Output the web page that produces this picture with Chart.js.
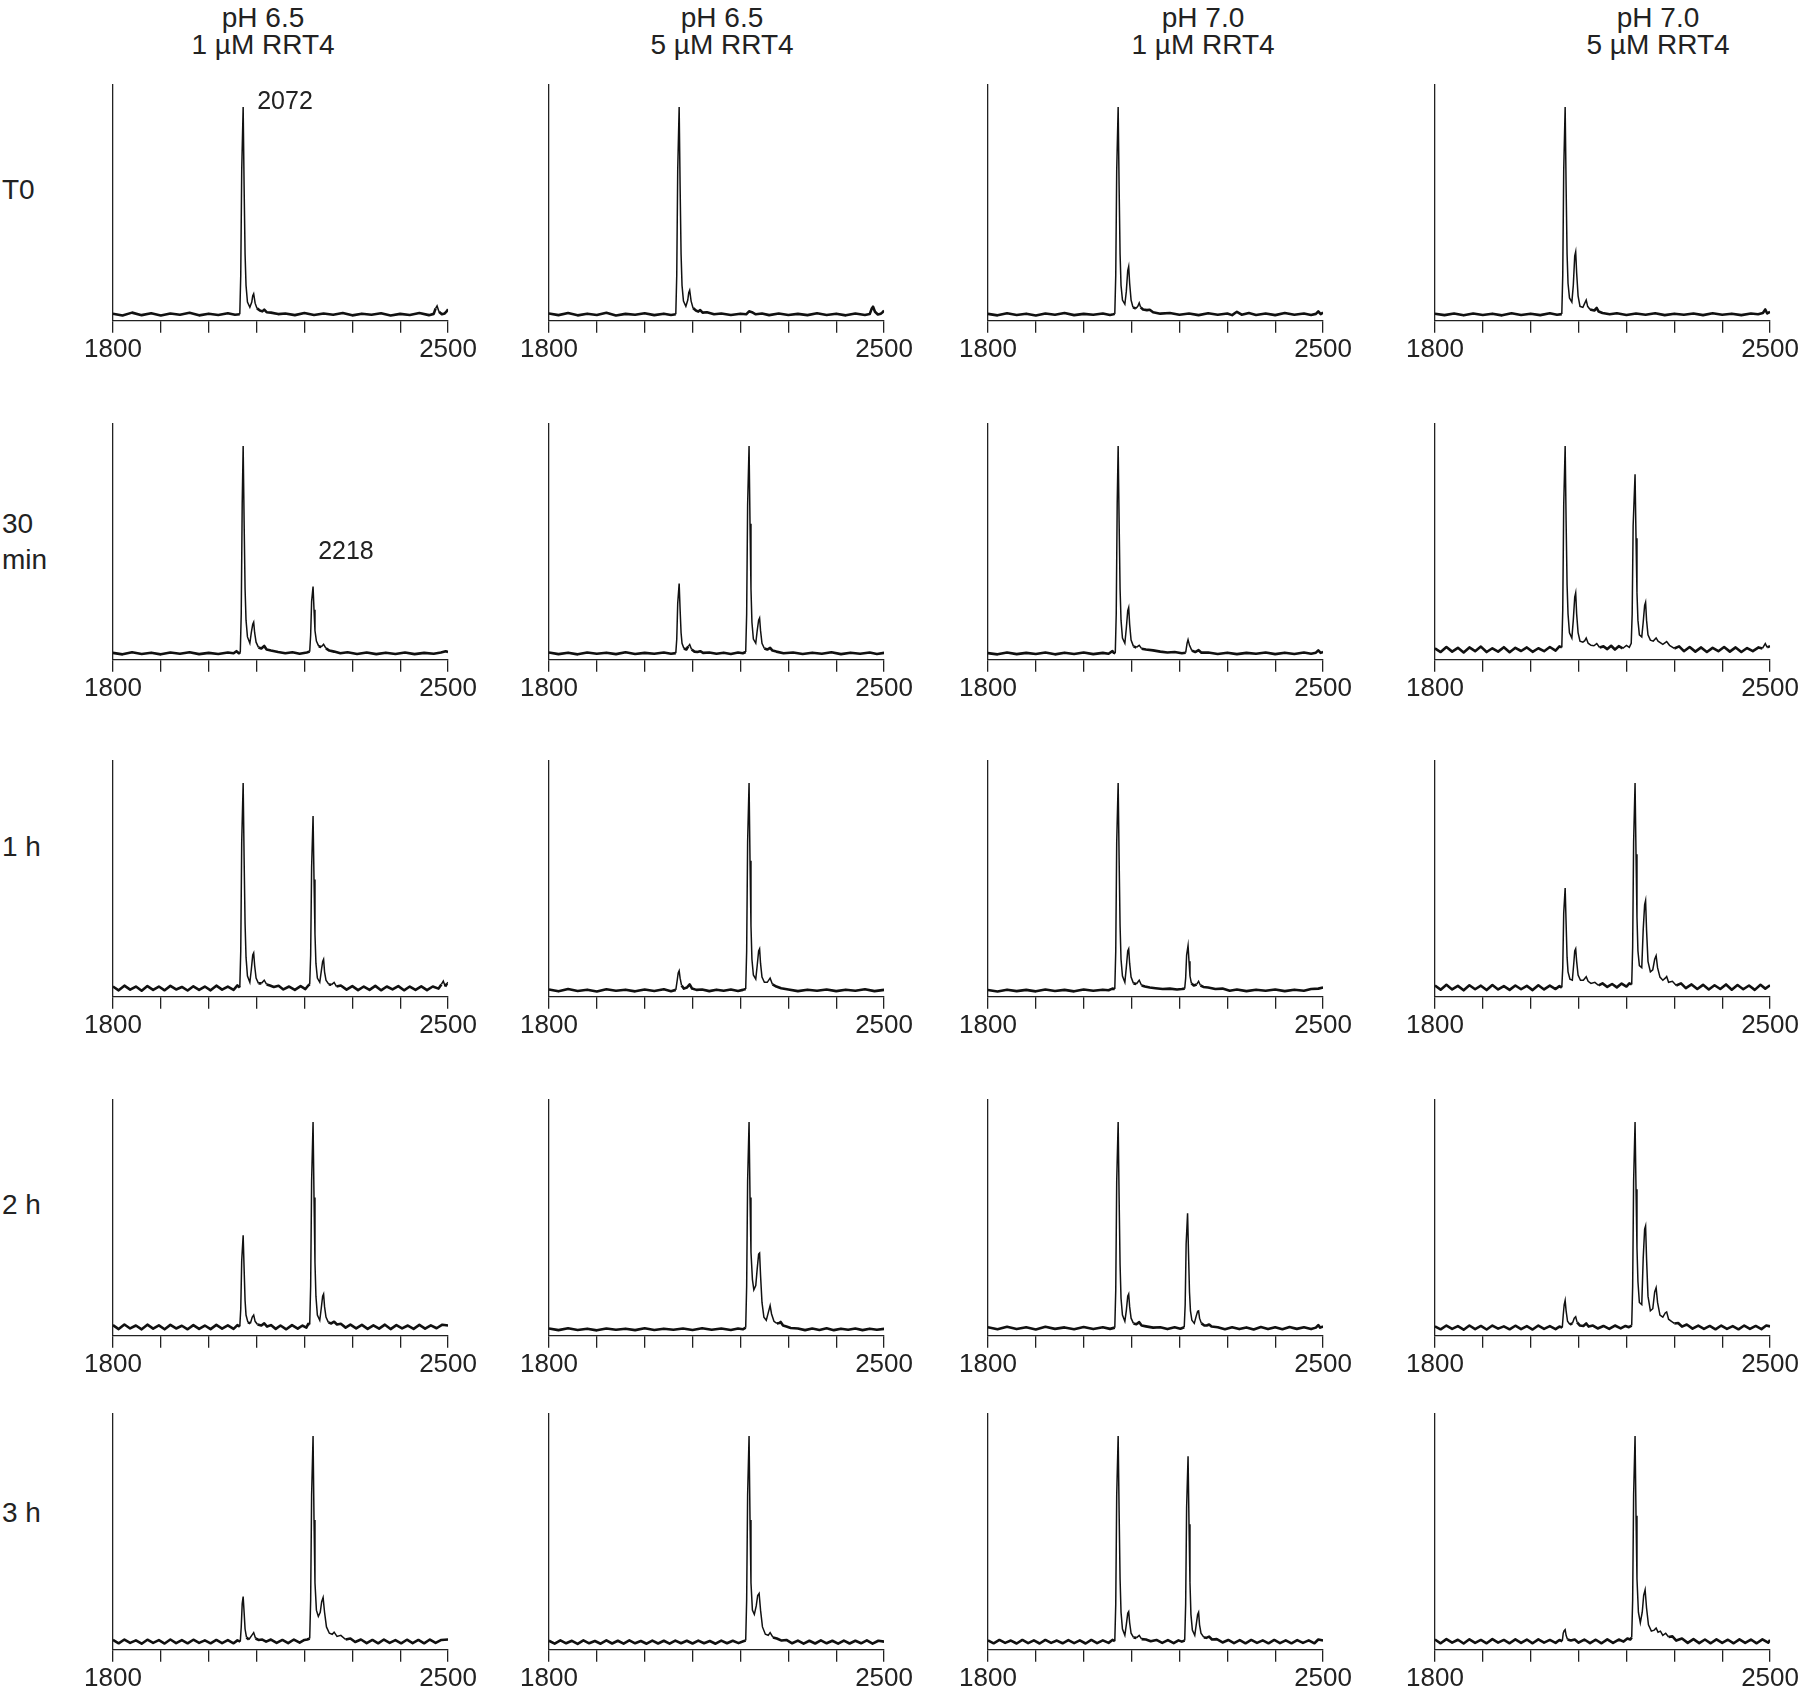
<!DOCTYPE html>
<html>
<head>
<meta charset="utf-8">
<title>RRT4 time course spectra</title>
<script src="https://cdn.jsdelivr.net/npm/chart.js@4.4.1/dist/chart.umd.min.js"></script>
<style>
  body { margin: 0; background: #fff; }
  #page { position: relative; width: 1800px; height: 1689px; overflow: hidden;
          font-family: "Liberation Sans", Arial, sans-serif; color: #222; }
  .txt { position: absolute; white-space: pre; }
  .head { font-size: 28px; line-height: 27px; text-align: center; width: 320px; }
  .rowlbl { font-size: 28px; line-height: 36px; }
  .note { font-size: 25px; line-height: 28px; }
  .panel { position: absolute; }
</style>
</head>
<body>
<div id="page"></div>
<script>
// labels
const conditions = ['pH 6.5\n1 µM RRT4', 'pH 6.5\n5 µM RRT4', 'pH 7.0\n1 µM RRT4', 'pH 7.0\n5 µM RRT4'];
const timepoints = ['T0', '30\nmin', '1 h', '2 h', '3 h'];
const mzRange = [1800, 2500];
const mzTickStep = 100;
const tickLabels = [1800, 2500];

// spectra, [m/z, relative intensity]
const t0_p65_1 = [[1800,0.015],[1820,0.006],[1840,0.02],[1860,0.008],[1880,0.017],[1900,0.006],[1920,0.016],[1940,0.01],[1960,0.019],[1980,0.007],[2000,0.015],[2020,0.009],[2040,0.017],[2055,0.01],[2065,0.012],[2067,0.2],[2069,0.7],[2072,1.0],[2074,0.62],[2076,0.3],[2078,0.15],[2081,0.07],[2086,0.045],[2090,0.07],[2092,0.1],[2094,0.11],[2097,0.065],[2101,0.04],[2107,0.03],[2112,0.026],[2116,0.034],[2121,0.022],[2130,0.02],[2145,0.013],[2160,0.016],[2180,0.008],[2200,0.018],[2220,0.009],[2240,0.016],[2260,0.01],[2280,0.018],[2300,0.007],[2320,0.015],[2340,0.01],[2360,0.017],[2380,0.006],[2400,0.014],[2420,0.009],[2440,0.018],[2460,0.008],[2470,0.014],[2474,0.04],[2477,0.052],[2481,0.024],[2487,0.012],[2493,0.016],[2497,0.026],[2500,0.036]];
const t0_p65_5 = [[1800,0.016],[1820,0.008],[1840,0.018],[1860,0.007],[1880,0.015],[1900,0.009],[1920,0.019],[1940,0.006],[1960,0.014],[1980,0.01],[2000,0.017],[2020,0.008],[2040,0.015],[2055,0.009],[2065,0.012],[2067,0.2],[2069,0.7],[2072,1.0],[2074,0.62],[2076,0.3],[2078,0.15],[2081,0.075],[2086,0.05],[2090,0.08],[2092,0.115],[2094,0.127],[2097,0.075],[2101,0.042],[2107,0.03],[2112,0.025],[2116,0.032],[2121,0.02],[2130,0.022],[2145,0.012],[2160,0.016],[2180,0.009],[2200,0.015],[2212,0.012],[2218,0.026],[2224,0.022],[2232,0.012],[2245,0.016],[2260,0.008],[2280,0.016],[2300,0.009],[2320,0.014],[2340,0.008],[2360,0.017],[2380,0.009],[2400,0.015],[2420,0.007],[2440,0.016],[2460,0.009],[2470,0.013],[2474,0.038],[2477,0.048],[2481,0.024],[2487,0.011],[2493,0.015],[2497,0.022],[2500,0.03]];
const t0_p70_1 = [[1800,0.014],[1820,0.007],[1840,0.017],[1860,0.009],[1880,0.015],[1900,0.006],[1920,0.016],[1940,0.01],[1960,0.018],[1980,0.008],[2000,0.014],[2020,0.01],[2040,0.016],[2055,0.009],[2062,0.012],[2065,0.014],[2067,0.2],[2069,0.7],[2072,1.0],[2074,0.62],[2076,0.3],[2078,0.15],[2081,0.08],[2086,0.06],[2089,0.12],[2092,0.22],[2094,0.24],[2096,0.16],[2099,0.08],[2103,0.045],[2109,0.04],[2113,0.05],[2116,0.066],[2119,0.045],[2124,0.035],[2132,0.032],[2138,0.034],[2145,0.022],[2160,0.015],[2180,0.018],[2200,0.01],[2220,0.016],[2240,0.008],[2260,0.017],[2280,0.01],[2300,0.016],[2310,0.008],[2320,0.024],[2330,0.01],[2345,0.018],[2360,0.009],[2380,0.016],[2400,0.008],[2420,0.018],[2440,0.01],[2460,0.016],[2475,0.009],[2485,0.014],[2490,0.026],[2495,0.013],[2500,0.02]];
const t0_p70_5 = [[1800,0.015],[1820,0.008],[1840,0.016],[1860,0.007],[1880,0.016],[1900,0.009],[1920,0.015],[1940,0.007],[1960,0.017],[1980,0.009],[2000,0.015],[2020,0.008],[2040,0.017],[2055,0.01],[2065,0.013],[2067,0.2],[2069,0.7],[2072,1.0],[2074,0.62],[2076,0.3],[2078,0.16],[2081,0.09],[2086,0.07],[2089,0.15],[2092,0.29],[2094,0.31],[2096,0.21],[2099,0.1],[2103,0.05],[2109,0.045],[2113,0.065],[2116,0.08],[2119,0.05],[2124,0.035],[2133,0.03],[2138,0.042],[2142,0.025],[2150,0.018],[2165,0.012],[2180,0.017],[2200,0.009],[2220,0.016],[2240,0.01],[2260,0.017],[2280,0.008],[2300,0.015],[2320,0.01],[2340,0.016],[2360,0.008],[2380,0.017],[2400,0.01],[2420,0.015],[2440,0.008],[2460,0.016],[2475,0.012],[2485,0.018],[2490,0.035],[2494,0.016],[2500,0.024]];

const m30_p65_1 = [[1800,0.014],[1820,0.007],[1840,0.017],[1860,0.009],[1880,0.015],[1900,0.007],[1920,0.016],[1940,0.01],[1960,0.017],[1980,0.008],[2000,0.014],[2020,0.009],[2040,0.016],[2052,0.012],[2058,0.022],[2063,0.012],[2066,0.015],[2068,0.2],[2070,0.72],[2072,1.0],[2074,0.64],[2076,0.32],[2078,0.17],[2081,0.09],[2086,0.06],[2089,0.11],[2092,0.15],[2094,0.16],[2096,0.11],[2099,0.065],[2104,0.04],[2110,0.035],[2116,0.047],[2121,0.03],[2130,0.025],[2145,0.018],[2160,0.012],[2175,0.017],[2190,0.01],[2205,0.016],[2211,0.02],[2213,0.1],[2215,0.26],[2218,0.33],[2220,0.22],[2222,0.12],[2225,0.07],[2230,0.045],[2235,0.042],[2240,0.055],[2245,0.035],[2252,0.025],[2262,0.02],[2275,0.012],[2290,0.017],[2310,0.009],[2330,0.016],[2350,0.008],[2370,0.015],[2390,0.009],[2410,0.016],[2430,0.008],[2450,0.014],[2470,0.01],[2485,0.016],[2495,0.022],[2500,0.018]];
const m30_p65_5 = [[1800,0.016],[1820,0.008],[1840,0.015],[1860,0.007],[1880,0.016],[1900,0.01],[1920,0.015],[1940,0.008],[1960,0.017],[1980,0.009],[2000,0.014],[2020,0.01],[2040,0.016],[2055,0.01],[2065,0.013],[2067,0.08],[2069,0.25],[2072,0.345],[2074,0.22],[2076,0.11],[2078,0.06],[2082,0.035],[2087,0.03],[2091,0.045],[2094,0.054],[2098,0.03],[2104,0.02],[2110,0.018],[2116,0.022],[2122,0.014],[2135,0.016],[2150,0.01],[2165,0.015],[2180,0.009],[2195,0.016],[2205,0.012],[2211,0.018],[2213,0.2],[2215,0.72],[2218,1.0],[2220,0.63],[2222,0.32],[2224,0.16],[2227,0.08],[2232,0.06],[2235,0.12],[2238,0.17],[2240,0.18],[2242,0.12],[2245,0.06],[2250,0.035],[2256,0.03],[2262,0.038],[2267,0.025],[2275,0.02],[2290,0.012],[2310,0.016],[2330,0.009],[2350,0.015],[2370,0.01],[2390,0.017],[2410,0.008],[2430,0.015],[2450,0.01],[2470,0.016],[2485,0.009],[2500,0.014]];
const m30_p70_1 = [[1800,0.013],[1820,0.007],[1840,0.016],[1860,0.008],[1880,0.014],[1900,0.009],[1920,0.016],[1940,0.007],[1960,0.015],[1980,0.009],[2000,0.016],[2020,0.008],[2040,0.014],[2052,0.01],[2060,0.022],[2063,0.014],[2066,0.012],[2068,0.2],[2070,0.72],[2072,1.0],[2074,0.64],[2076,0.32],[2078,0.17],[2081,0.085],[2086,0.06],[2089,0.13],[2092,0.215],[2094,0.23],[2096,0.15],[2099,0.075],[2104,0.045],[2110,0.04],[2116,0.05],[2121,0.034],[2130,0.03],[2145,0.026],[2160,0.02],[2175,0.016],[2190,0.018],[2205,0.012],[2213,0.015],[2216,0.06],[2218,0.077],[2221,0.05],[2226,0.025],[2233,0.018],[2240,0.027],[2246,0.015],[2260,0.016],[2280,0.009],[2300,0.015],[2320,0.008],[2340,0.014],[2360,0.01],[2380,0.016],[2400,0.008],[2420,0.015],[2440,0.009],[2460,0.016],[2475,0.01],[2485,0.015],[2490,0.026],[2495,0.014],[2500,0.018]];
const m30_p70_5 = [[1800,0.035],[1812,0.018],[1824,0.042],[1836,0.02],[1848,0.038],[1860,0.016],[1872,0.04],[1884,0.022],[1896,0.044],[1908,0.018],[1920,0.036],[1932,0.02],[1944,0.041],[1956,0.017],[1968,0.038],[1980,0.023],[1992,0.04],[2004,0.019],[2016,0.036],[2028,0.022],[2040,0.042],[2052,0.025],[2060,0.045],[2065,0.04],[2067,0.22],[2069,0.72],[2072,1.0],[2074,0.64],[2076,0.34],[2078,0.2],[2081,0.11],[2086,0.085],[2089,0.17],[2092,0.28],[2094,0.3],[2096,0.2],[2099,0.11],[2103,0.07],[2109,0.065],[2113,0.072],[2116,0.085],[2120,0.06],[2126,0.05],[2132,0.048],[2138,0.058],[2144,0.04],[2152,0.045],[2160,0.032],[2168,0.048],[2176,0.03],[2184,0.046],[2192,0.035],[2200,0.05],[2206,0.04],[2210,0.06],[2212,0.2],[2214,0.62],[2218,0.865],[2220,0.56],[2222,0.3],[2224,0.17],[2227,0.1],[2232,0.09],[2235,0.16],[2238,0.24],[2240,0.255],[2242,0.17],[2245,0.1],[2250,0.075],[2256,0.07],[2262,0.085],[2266,0.07],[2276,0.055],[2284,0.068],[2290,0.05],[2300,0.035],[2310,0.045],[2320,0.022],[2332,0.042],[2344,0.02],[2356,0.04],[2368,0.018],[2380,0.038],[2392,0.022],[2404,0.042],[2416,0.02],[2428,0.04],[2440,0.018],[2452,0.037],[2464,0.022],[2476,0.04],[2484,0.035],[2490,0.058],[2494,0.04],[2500,0.046]];

const h1_p65_1 = [[1800,0.03],[1812,0.012],[1824,0.034],[1836,0.015],[1848,0.03],[1860,0.01],[1872,0.032],[1884,0.014],[1896,0.03],[1908,0.012],[1920,0.033],[1932,0.016],[1944,0.028],[1956,0.011],[1968,0.031],[1980,0.014],[1992,0.03],[2004,0.012],[2016,0.034],[2028,0.015],[2040,0.03],[2052,0.014],[2060,0.035],[2065,0.025],[2067,0.2],[2069,0.72],[2072,1.0],[2074,0.64],[2076,0.33],[2078,0.17],[2081,0.08],[2086,0.05],[2089,0.11],[2092,0.18],[2094,0.19],[2096,0.13],[2099,0.07],[2104,0.045],[2110,0.045],[2116,0.06],[2121,0.04],[2128,0.035],[2136,0.028],[2146,0.034],[2156,0.016],[2168,0.03],[2180,0.014],[2192,0.032],[2202,0.018],[2208,0.035],[2211,0.04],[2213,0.18],[2215,0.6],[2218,0.843],[2220,0.54],[2222,0.28],[2224,0.14],[2227,0.07],[2232,0.05],[2235,0.1],[2238,0.15],[2240,0.16],[2242,0.1],[2245,0.06],[2251,0.04],[2256,0.038],[2262,0.05],[2267,0.03],[2276,0.035],[2288,0.015],[2300,0.032],[2312,0.013],[2324,0.03],[2336,0.014],[2348,0.033],[2360,0.012],[2372,0.03],[2384,0.016],[2396,0.032],[2408,0.012],[2420,0.03],[2432,0.014],[2444,0.031],[2456,0.013],[2468,0.03],[2480,0.02],[2486,0.04],[2490,0.056],[2494,0.03],[2498,0.045],[2500,0.05]];
const h1_p65_5 = [[1800,0.016],[1820,0.007],[1840,0.018],[1860,0.009],[1880,0.015],[1900,0.006],[1920,0.017],[1940,0.01],[1960,0.015],[1980,0.007],[2000,0.016],[2020,0.009],[2040,0.017],[2055,0.008],[2065,0.014],[2068,0.06],[2070,0.095],[2072,0.105],[2074,0.07],[2077,0.035],[2082,0.02],[2088,0.025],[2094,0.04],[2099,0.02],[2108,0.014],[2120,0.016],[2135,0.008],[2150,0.015],[2165,0.01],[2180,0.016],[2195,0.009],[2205,0.014],[2211,0.018],[2213,0.2],[2215,0.72],[2218,1.0],[2220,0.63],[2222,0.32],[2224,0.16],[2227,0.085],[2232,0.065],[2235,0.13],[2238,0.2],[2240,0.21],[2242,0.14],[2245,0.075],[2250,0.05],[2256,0.05],[2262,0.07],[2267,0.04],[2275,0.03],[2285,0.022],[2300,0.016],[2320,0.008],[2340,0.015],[2360,0.01],[2380,0.016],[2400,0.008],[2420,0.015],[2440,0.01],[2460,0.017],[2480,0.008],[2500,0.014]];
const h1_p70_1 = [[1800,0.013],[1820,0.006],[1840,0.015],[1860,0.008],[1880,0.014],[1900,0.007],[1920,0.016],[1940,0.009],[1960,0.014],[1980,0.007],[2000,0.016],[2020,0.01],[2040,0.015],[2052,0.012],[2060,0.02],[2065,0.018],[2067,0.2],[2069,0.72],[2072,1.0],[2074,0.64],[2076,0.32],[2078,0.16],[2081,0.08],[2086,0.05],[2089,0.12],[2092,0.2],[2094,0.21],[2096,0.14],[2099,0.075],[2104,0.045],[2110,0.042],[2116,0.06],[2121,0.035],[2128,0.03],[2138,0.025],[2150,0.022],[2165,0.018],[2180,0.02],[2195,0.016],[2205,0.018],[2211,0.02],[2213,0.07],[2215,0.18],[2218,0.225],[2220,0.15],[2222,0.08],[2225,0.045],[2230,0.035],[2236,0.04],[2240,0.055],[2244,0.035],[2250,0.028],[2260,0.025],[2275,0.018],[2290,0.02],[2305,0.01],[2320,0.016],[2340,0.008],[2360,0.015],[2380,0.01],[2400,0.016],[2420,0.008],[2440,0.015],[2460,0.01],[2475,0.018],[2490,0.02],[2500,0.025]];
const h1_p70_5 = [[1800,0.035],[1812,0.015],[1824,0.038],[1836,0.016],[1848,0.033],[1860,0.012],[1872,0.036],[1884,0.017],[1896,0.034],[1908,0.013],[1920,0.037],[1932,0.016],[1944,0.032],[1956,0.014],[1968,0.035],[1980,0.017],[1992,0.033],[2004,0.013],[2016,0.036],[2028,0.016],[2040,0.034],[2052,0.018],[2060,0.032],[2065,0.025],[2067,0.12],[2069,0.38],[2072,0.5],[2074,0.33],[2076,0.17],[2078,0.1],[2082,0.065],[2087,0.06],[2090,0.14],[2092,0.2],[2094,0.21],[2096,0.15],[2099,0.085],[2104,0.06],[2110,0.06],[2116,0.077],[2120,0.055],[2126,0.045],[2134,0.05],[2142,0.035],[2150,0.045],[2160,0.028],[2170,0.042],[2180,0.026],[2190,0.044],[2200,0.03],[2206,0.045],[2211,0.04],[2213,0.22],[2215,0.72],[2218,1.0],[2220,0.66],[2222,0.36],[2224,0.2],[2227,0.13],[2232,0.12],[2235,0.3],[2238,0.42],[2240,0.44],[2242,0.3],[2245,0.15],[2250,0.1],[2255,0.11],[2259,0.16],[2262,0.177],[2265,0.12],[2270,0.075],[2276,0.06],[2281,0.07],[2284,0.078],[2288,0.05],[2296,0.055],[2304,0.035],[2314,0.045],[2324,0.022],[2336,0.04],[2348,0.018],[2360,0.038],[2372,0.016],[2384,0.036],[2396,0.018],[2408,0.04],[2420,0.015],[2432,0.037],[2444,0.017],[2456,0.035],[2468,0.014],[2480,0.038],[2490,0.02],[2500,0.036]];

const h2_p65_1 = [[1800,0.032],[1812,0.013],[1824,0.035],[1836,0.016],[1848,0.03],[1860,0.012],[1872,0.034],[1884,0.015],[1896,0.031],[1908,0.012],[1920,0.033],[1932,0.016],[1944,0.029],[1956,0.012],[1968,0.032],[1980,0.014],[1992,0.03],[2004,0.013],[2016,0.033],[2028,0.015],[2040,0.031],[2052,0.014],[2060,0.032],[2065,0.025],[2067,0.11],[2069,0.34],[2072,0.46],[2074,0.3],[2076,0.15],[2078,0.08],[2082,0.045],[2087,0.04],[2091,0.07],[2094,0.08],[2097,0.05],[2102,0.035],[2110,0.03],[2116,0.04],[2122,0.025],[2130,0.032],[2140,0.014],[2150,0.03],[2162,0.012],[2174,0.032],[2186,0.015],[2196,0.03],[2204,0.02],[2208,0.038],[2211,0.035],[2213,0.22],[2215,0.72],[2218,1.0],[2220,0.64],[2222,0.33],[2224,0.17],[2227,0.08],[2232,0.055],[2235,0.11],[2238,0.17],[2240,0.18],[2242,0.12],[2245,0.07],[2250,0.045],[2256,0.04],[2262,0.048],[2268,0.035],[2276,0.038],[2286,0.02],[2296,0.034],[2308,0.016],[2320,0.033],[2332,0.014],[2344,0.031],[2356,0.015],[2368,0.034],[2380,0.013],[2392,0.032],[2404,0.016],[2416,0.03],[2428,0.014],[2440,0.033],[2452,0.015],[2464,0.031],[2476,0.017],[2488,0.034],[2500,0.03]];
const h2_p65_5 = [[1800,0.016],[1820,0.008],[1840,0.017],[1860,0.009],[1880,0.015],[1900,0.007],[1920,0.016],[1940,0.01],[1960,0.015],[1980,0.008],[2000,0.017],[2020,0.009],[2040,0.015],[2060,0.01],[2080,0.016],[2100,0.009],[2120,0.017],[2140,0.01],[2160,0.016],[2180,0.009],[2195,0.016],[2205,0.012],[2211,0.02],[2213,0.22],[2215,0.72],[2218,1.0],[2220,0.64],[2222,0.38],[2225,0.25],[2228,0.2],[2232,0.22],[2235,0.3],[2238,0.37],[2240,0.375],[2242,0.27],[2245,0.14],[2249,0.07],[2254,0.055],[2258,0.09],[2262,0.125],[2265,0.085],[2270,0.05],[2276,0.04],[2281,0.042],[2284,0.047],[2289,0.03],[2296,0.025],[2305,0.018],[2320,0.016],[2335,0.008],[2350,0.016],[2365,0.009],[2380,0.017],[2395,0.008],[2410,0.015],[2425,0.01],[2440,0.016],[2455,0.008],[2470,0.015],[2485,0.01],[2500,0.014]];
const h2_p70_1 = [[1800,0.022],[1820,0.012],[1840,0.024],[1860,0.013],[1880,0.022],[1900,0.011],[1920,0.024],[1940,0.014],[1960,0.021],[1980,0.012],[2000,0.023],[2020,0.013],[2040,0.022],[2055,0.014],[2065,0.02],[2067,0.2],[2069,0.72],[2072,1.0],[2074,0.64],[2076,0.32],[2078,0.16],[2081,0.08],[2086,0.05],[2089,0.1],[2092,0.17],[2094,0.18],[2096,0.12],[2099,0.065],[2104,0.04],[2110,0.036],[2116,0.046],[2121,0.03],[2130,0.026],[2145,0.02],[2160,0.022],[2175,0.013],[2190,0.022],[2202,0.015],[2210,0.022],[2212,0.13],[2214,0.42],[2217,0.565],[2219,0.37],[2221,0.19],[2223,0.1],[2226,0.055],[2231,0.04],[2235,0.075],[2238,0.098],[2240,0.1],[2242,0.065],[2246,0.04],[2252,0.03],[2257,0.03],[2262,0.035],[2267,0.025],[2280,0.022],[2295,0.012],[2310,0.022],[2325,0.013],[2340,0.021],[2355,0.011],[2370,0.023],[2385,0.013],[2400,0.022],[2415,0.012],[2430,0.023],[2445,0.014],[2460,0.022],[2475,0.013],[2485,0.02],[2490,0.032],[2494,0.02],[2500,0.025]];
const h2_p70_5 = [[1800,0.026],[1812,0.012],[1824,0.03],[1836,0.014],[1848,0.027],[1860,0.01],[1872,0.03],[1884,0.013],[1896,0.028],[1908,0.011],[1920,0.03],[1932,0.015],[1944,0.026],[1956,0.012],[1968,0.029],[1980,0.013],[1992,0.027],[2004,0.011],[2016,0.03],[2028,0.014],[2040,0.027],[2052,0.013],[2060,0.025],[2066,0.02],[2068,0.08],[2070,0.13],[2072,0.15],[2074,0.1],[2077,0.05],[2082,0.035],[2087,0.04],[2091,0.065],[2094,0.072],[2097,0.045],[2103,0.03],[2110,0.028],[2116,0.04],[2121,0.025],[2130,0.03],[2140,0.016],[2152,0.028],[2164,0.014],[2176,0.03],[2188,0.016],[2198,0.028],[2205,0.022],[2211,0.03],[2213,0.22],[2215,0.72],[2218,1.0],[2220,0.68],[2222,0.4],[2224,0.24],[2227,0.14],[2232,0.13],[2235,0.35],[2238,0.49],[2240,0.505],[2242,0.35],[2245,0.17],[2250,0.1],[2255,0.11],[2259,0.19],[2262,0.21],[2265,0.14],[2270,0.08],[2276,0.07],[2281,0.09],[2284,0.095],[2288,0.06],[2294,0.05],[2300,0.04],[2308,0.042],[2316,0.025],[2326,0.035],[2338,0.015],[2350,0.03],[2362,0.014],[2374,0.028],[2386,0.012],[2398,0.03],[2410,0.014],[2422,0.027],[2434,0.012],[2446,0.03],[2458,0.014],[2470,0.028],[2482,0.013],[2492,0.03],[2500,0.026]];

const h3_p65_1 = [[1800,0.028],[1812,0.012],[1824,0.03],[1836,0.014],[1848,0.026],[1860,0.01],[1872,0.029],[1884,0.014],[1896,0.027],[1908,0.011],[1920,0.03],[1932,0.013],[1944,0.027],[1956,0.012],[1968,0.029],[1980,0.014],[1992,0.026],[2004,0.012],[2016,0.028],[2028,0.013],[2040,0.027],[2052,0.012],[2060,0.026],[2066,0.02],[2068,0.09],[2070,0.2],[2072,0.235],[2074,0.16],[2076,0.08],[2079,0.04],[2084,0.03],[2090,0.05],[2094,0.063],[2098,0.035],[2104,0.028],[2112,0.03],[2120,0.02],[2130,0.03],[2142,0.014],[2154,0.028],[2166,0.013],[2178,0.03],[2190,0.015],[2200,0.028],[2206,0.03],[2211,0.035],[2213,0.22],[2215,0.72],[2218,1.0],[2220,0.6],[2222,0.3],[2225,0.17],[2229,0.14],[2233,0.16],[2236,0.21],[2239,0.23],[2242,0.16],[2246,0.09],[2252,0.06],[2258,0.055],[2262,0.065],[2268,0.045],[2276,0.05],[2286,0.03],[2296,0.035],[2306,0.018],[2318,0.03],[2330,0.013],[2342,0.028],[2354,0.012],[2366,0.03],[2378,0.014],[2390,0.027],[2402,0.012],[2414,0.029],[2426,0.013],[2438,0.028],[2450,0.012],[2462,0.03],[2474,0.014],[2486,0.028],[2500,0.03]];
const h3_p65_5 = [[1800,0.024],[1812,0.01],[1824,0.026],[1836,0.012],[1848,0.024],[1860,0.009],[1872,0.026],[1884,0.012],[1896,0.023],[1908,0.01],[1920,0.026],[1932,0.011],[1944,0.024],[1956,0.01],[1968,0.026],[1980,0.012],[1992,0.023],[2004,0.01],[2016,0.025],[2028,0.011],[2040,0.024],[2052,0.01],[2064,0.025],[2076,0.012],[2088,0.024],[2100,0.011],[2112,0.025],[2124,0.012],[2136,0.023],[2148,0.01],[2160,0.025],[2172,0.012],[2184,0.024],[2196,0.013],[2206,0.022],[2211,0.025],[2213,0.22],[2215,0.72],[2218,1.0],[2220,0.6],[2222,0.3],[2225,0.17],[2229,0.15],[2233,0.19],[2236,0.24],[2239,0.25],[2242,0.17],[2246,0.09],[2252,0.055],[2258,0.05],[2262,0.063],[2268,0.04],[2276,0.035],[2286,0.025],[2296,0.028],[2308,0.012],[2320,0.025],[2332,0.01],[2344,0.024],[2356,0.011],[2368,0.026],[2380,0.012],[2392,0.024],[2404,0.01],[2416,0.025],[2428,0.011],[2440,0.024],[2452,0.012],[2464,0.026],[2476,0.01],[2488,0.024],[2500,0.02]];
const h3_p70_1 = [[1800,0.026],[1812,0.012],[1824,0.028],[1836,0.014],[1848,0.025],[1860,0.011],[1872,0.028],[1884,0.013],[1896,0.026],[1908,0.011],[1920,0.028],[1932,0.014],[1944,0.025],[1956,0.012],[1968,0.027],[1980,0.013],[1992,0.026],[2004,0.011],[2016,0.028],[2028,0.013],[2040,0.026],[2052,0.014],[2060,0.028],[2065,0.022],[2067,0.2],[2069,0.72],[2072,1.0],[2074,0.64],[2076,0.32],[2078,0.16],[2081,0.08],[2086,0.05],[2089,0.1],[2092,0.155],[2094,0.163],[2096,0.11],[2099,0.06],[2104,0.04],[2110,0.038],[2116,0.05],[2121,0.032],[2130,0.03],[2140,0.022],[2152,0.028],[2164,0.014],[2176,0.027],[2188,0.013],[2198,0.026],[2205,0.02],[2211,0.025],[2213,0.2],[2215,0.66],[2218,0.903],[2220,0.58],[2222,0.3],[2224,0.15],[2227,0.075],[2232,0.05],[2235,0.1],[2238,0.15],[2240,0.16],[2242,0.1],[2245,0.06],[2251,0.04],[2256,0.038],[2262,0.044],[2268,0.03],[2278,0.032],[2290,0.016],[2302,0.028],[2314,0.013],[2326,0.027],[2338,0.012],[2350,0.028],[2362,0.014],[2374,0.026],[2386,0.012],[2398,0.028],[2410,0.013],[2422,0.026],[2434,0.012],[2446,0.027],[2458,0.014],[2470,0.026],[2482,0.012],[2490,0.03],[2500,0.025]];
const h3_p70_5 = [[1800,0.03],[1812,0.012],[1824,0.032],[1836,0.015],[1848,0.029],[1860,0.011],[1872,0.031],[1884,0.014],[1896,0.028],[1908,0.012],[1920,0.032],[1932,0.015],[1944,0.028],[1956,0.012],[1968,0.031],[1980,0.014],[1992,0.03],[2004,0.012],[2016,0.031],[2028,0.015],[2040,0.028],[2052,0.014],[2060,0.028],[2066,0.022],[2068,0.06],[2070,0.072],[2072,0.077],[2074,0.05],[2077,0.03],[2084,0.025],[2092,0.03],[2100,0.015],[2112,0.03],[2124,0.013],[2136,0.029],[2148,0.012],[2160,0.031],[2172,0.014],[2184,0.03],[2194,0.02],[2202,0.035],[2208,0.03],[2211,0.04],[2213,0.22],[2215,0.72],[2218,1.0],[2220,0.62],[2222,0.32],[2225,0.16],[2229,0.11],[2233,0.16],[2236,0.24],[2239,0.267],[2242,0.18],[2246,0.1],[2252,0.07],[2258,0.075],[2262,0.085],[2266,0.065],[2271,0.07],[2276,0.05],[2282,0.06],[2288,0.042],[2296,0.045],[2304,0.025],[2316,0.035],[2328,0.014],[2340,0.032],[2352,0.013],[2364,0.03],[2376,0.012],[2388,0.031],[2400,0.014],[2412,0.029],[2424,0.012],[2436,0.031],[2448,0.014],[2460,0.03],[2472,0.012],[2484,0.031],[2496,0.015],[2500,0.028]];

const spectra = [
  [t0_p65_1, t0_p65_5, t0_p70_1, t0_p70_5],
  [m30_p65_1, m30_p65_5, m30_p70_1, m30_p70_5],
  [h1_p65_1, h1_p65_5, h1_p70_1, h1_p70_5],
  [h2_p65_1, h2_p65_5, h2_p70_1, h2_p70_5],
  [h3_p65_1, h3_p65_5, h3_p70_1, h3_p70_5]
];

// labelled peaks: panel, m/z, intensity
const peakNotes = [
  { row: 0, col: 0, mz: 2072, y: 1.0, text: '2072' },
  { row: 1, col: 0, mz: 2218, y: 0.33, text: '2218' }
];

// layout (px)
const colLeft = [113, 549, 988, 1435];
const rowTop = [85, 424, 761, 1100, 1414];
const plotW = 335, plotH = 236;
const headX = [263, 722, 1203, 1658];
const headTop = 4;
const rowLabelMid = [190, 542, 847, 1205, 1513];
const noteOffset = [[14, -7], [5, -37]];

const page = document.getElementById('page');
const FONT = '"Liberation Sans", Arial, sans-serif';

function addText(text, cls, left, top) {
  const d = document.createElement('div');
  d.className = 'txt ' + cls;
  d.textContent = text;
  d.style.left = left + 'px';
  d.style.top = top + 'px';
  page.appendChild(d);
  return d;
}

// baseline stretches are drawn heavier, like the noisy band in the original
const isBase = ctx => ctx.p0.parsed.y < 0.05 && ctx.p1.parsed.y < 0.05;

function config(points) {
  return {
    type: 'line',
    data: {
      datasets: [{
        data: points.map(p => ({ x: p[0], y: p[1] })),
        borderColor: '#111',
        borderWidth: 1.5,
        pointRadius: 0,
        tension: 0,
        segment: {
          borderWidth: ctx => isBase(ctx) ? 2.6 : 1.5,
          borderJoinStyle: ctx => isBase(ctx) ? 'round' : 'miter'
        }
      }]
    },
    options: {
      responsive: false,
      animation: false,
      events: [],
      layout: { padding: { top: 6, left: 2, right: 2, bottom: 2 } },
      plugins: { legend: { display: false }, tooltip: { enabled: false } },
      scales: {
        x: {
          type: 'linear', min: mzRange[0], max: mzRange[1],
          grid: { drawOnChartArea: false, drawTicks: true, tickLength: 12, color: '#222', lineWidth: 1.3 },
          border: { display: true, color: '#222', width: 1.3 },
          ticks: {
            stepSize: mzTickStep, autoSkip: false, maxRotation: 0, padding: 1, color: '#222',
            font: { family: FONT, size: 26 },
            callback: v => tickLabels.includes(v) ? String(v) : ''
          }
        },
        y: {
          min: -0.019, max: 1.105,
          grid: { display: false, drawTicks: false },
          border: { display: true, color: '#222', width: 1.3 },
          ticks: { display: false }
        }
      }
    }
  };
}

const charts = spectra.map(() => []);
spectra.forEach((rowData, r) => {
  rowData.forEach((pts, c) => {
    const box = document.createElement('div');
    box.className = 'panel';
    const cv = document.createElement('canvas');
    cv.width = 440; cv.height = 300;
    box.appendChild(cv);
    page.appendChild(box);
    // first pass to learn the paddings, then size the canvas so the plot area is exact
    let chart = new Chart(cv, config(pts));
    let a = chart.chartArea;
    const w = Math.round(440 + plotW - (a.right - a.left));
    const h = Math.round(300 + plotH - (a.bottom - a.top));
    chart.destroy();
    cv.width = w; cv.height = h;
    chart = new Chart(cv, config(pts));
    a = chart.chartArea;
    const left = colLeft[c] - a.left, top = rowTop[r] - a.top;
    box.style.left = left + 'px';
    box.style.top = top + 'px';
    charts[r][c] = { chart, left, top };
  });
});

conditions.forEach((t, c) => addText(t, 'head', headX[c] - 160, headTop));
timepoints.forEach((t, r) => {
  const lines = t.split('\n').length;
  addText(t, 'rowlbl', 2, rowLabelMid[r] - lines * 18);
});
peakNotes.forEach((n, i) => {
  const { chart, left, top } = charts[n.row][n.col];
  const px = left + chart.scales.x.getPixelForValue(n.mz);
  const py = top + chart.scales.y.getPixelForValue(n.y);
  addText(n.text, 'note', px + noteOffset[i][0], py + noteOffset[i][1] - 14);
});
</script>
</body>
</html>
